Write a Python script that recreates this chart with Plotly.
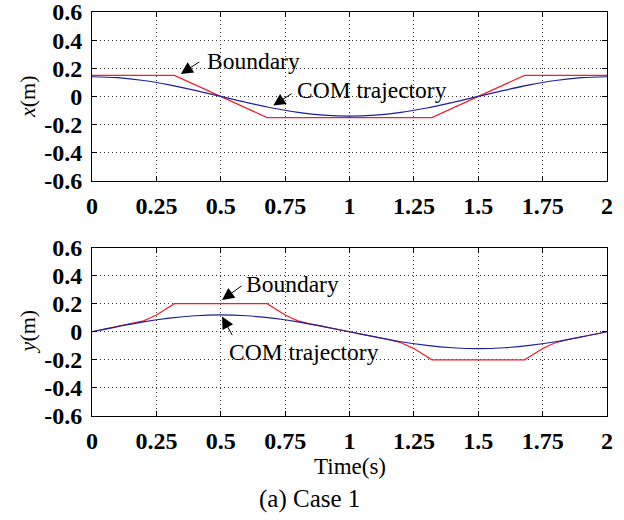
import plotly.graph_objects as go
from plotly.subplots import make_subplots

# ---- data ----
t_bound_x = [0, 0.32, 0.68, 1.32, 1.68, 2.0]
bound_x = [0.15, 0.15, -0.15, -0.15, 0.15, 0.15]

t_com = [0.0, 0.1, 0.2, 0.3, 0.4, 0.5, 0.6, 0.7, 0.8, 0.9, 1.0,
         1.1, 1.2, 1.3, 1.4, 1.5, 1.6, 1.7, 1.8, 1.9, 2.0]
com_x = [0.140, 0.133, 0.113, 0.082, 0.043, 0.0, -0.043, -0.082, -0.113, -0.133, -0.140,
         -0.133, -0.113, -0.082, -0.043, 0.0, 0.043, 0.082, 0.113, 0.133, 0.140]
com_y = [0.0, 0.037, 0.071, 0.097, 0.114, 0.120, 0.114, 0.097, 0.071, 0.037, 0.0,
         -0.037, -0.071, -0.097, -0.114, -0.120, -0.114, -0.097, -0.071, -0.037, 0.0]

t_bound_y = [0, 0.05, 0.1, 0.15, 0.2, 0.225, 0.25, 0.275, 0.3, 0.32,
             0.68, 0.7, 0.725, 0.75, 0.775, 0.8, 0.85, 0.9, 0.95, 1.0,
             1.05, 1.1, 1.15, 1.2, 1.225, 1.25, 1.275, 1.3, 1.32,
             1.68, 1.7, 1.725, 1.75, 1.775, 1.8, 1.85, 1.9, 1.95, 2.0]
bound_y = [0, 0.019, 0.037, 0.055, 0.078, 0.098, 0.12, 0.148, 0.177, 0.2,
           0.2, 0.177, 0.148, 0.12, 0.098, 0.078, 0.055, 0.037, 0.019, 0.0,
           -0.019, -0.037, -0.055, -0.078, -0.098, -0.12, -0.148, -0.177, -0.2,
           -0.2, -0.177, -0.148, -0.12, -0.098, -0.078, -0.055, -0.037, -0.019, 0.0]

x_ticks = [0, 0.25, 0.5, 0.75, 1, 1.25, 1.5, 1.75, 2]
x_tick_labels = ["0", "0.25", "0.5", "0.75", "1", "1.25", "1.5", "1.75", "2"]
y_ticks = [-0.6, -0.4, -0.2, 0, 0.2, 0.4, 0.6]
y_tick_labels = ["-0.6", "-0.4", "-0.2", "0", "0.2", "0.4", "0.6"]

RED = "#f0202a"
BLUE = "#1e1e9c"
FONT = "Liberation Serif"

fig = make_subplots(rows=2, cols=1, vertical_spacing=0.0)

fig.add_trace(go.Scatter(x=t_bound_x, y=bound_x, mode="lines",
                         line=dict(color=RED, width=1.2)), row=1, col=1)
fig.add_trace(go.Scatter(x=t_com, y=com_x, mode="lines",
                         line=dict(color=BLUE, width=1.2, shape="spline")), row=1, col=1)
fig.add_trace(go.Scatter(x=t_bound_y, y=bound_y, mode="lines",
                         line=dict(color=RED, width=1.2)), row=2, col=1)
fig.add_trace(go.Scatter(x=t_com, y=com_y, mode="lines",
                         line=dict(color=BLUE, width=1.2, shape="spline")), row=2, col=1)

axis_common = dict(showline=True, linecolor="black", linewidth=1, mirror="allticks",
                   ticks="inside", ticklen=5, tickcolor="black",
                   showgrid=True, gridcolor="#333333", gridwidth=1, griddash="1px,3px",
                   zeroline=False, automargin=False, ticklabeloverflow="allow",
                   tickfont=dict(family=FONT, size=24, color="black", weight="bold"))

for r in (1, 2):
    fig.update_xaxes(range=[0, 2], tickvals=x_ticks, ticktext=x_tick_labels,
                     ticklabelstandoff=3, row=r, col=1, **axis_common)
    fig.update_yaxes(range=[-0.6, 0.6], tickvals=y_ticks, ticktext=y_tick_labels,
                     ticklabelstandoff=4, row=r, col=1, **axis_common)

fig.update_layout(
    width=624, height=520,
    margin=dict(l=92, r=17, t=12, b=104, autoexpand=False),
    paper_bgcolor="white", plot_bgcolor="white",
    showlegend=False,
    xaxis=dict(domain=[0, 1]), xaxis2=dict(domain=[0, 1]),
    yaxis=dict(domain=[0.582, 1.0]), yaxis2=dict(domain=[0.0, 0.417]),
)

afont = dict(family=FONT, size=23.5, color="black")
arrow = dict(text="", showarrow=True, arrowhead=2, arrowsize=2.4, arrowwidth=1,
             arrowcolor="black")
annotations = [
    # top panel
    dict(x=0.44, y=0.25, xref="x", yref="y", text="Boundary", showarrow=False,
         xanchor="left", yanchor="middle", font=afont),
    dict(x=0.345, y=0.16, xref="x", yref="y", ax=20, ay=-13, **arrow),
    dict(x=0.79, y=0.045, xref="x", yref="y", text="COM trajectory", showarrow=False,
         xanchor="left", yanchor="middle", font=afont),
    dict(x=0.704, y=-0.065, xref="x", yref="y", ax=20, ay=-13, **arrow),
    # bottom panel
    dict(x=0.59, y=0.34, xref="x2", yref="y2", text="Boundary", showarrow=False,
         xanchor="left", yanchor="middle", font=afont),
    dict(x=0.505, y=0.227, xref="x2", yref="y2", ax=21, ay=-15, **arrow),
    dict(x=0.525, y=-0.145, xref="x2", yref="y2", text="COM trajectory", showarrow=False,
         xanchor="left", yanchor="middle", font=afont),
    dict(x=0.505, y=0.108, xref="x2", yref="y2", ax=11, ay=20, **arrow),
    # axis titles
    dict(x=-0.125, y=0, xref="paper", yref="y", text="<i>x</i>(m)", showarrow=False,
         textangle=-90, xanchor="center", yanchor="middle",
         font=dict(family=FONT, size=22, color="black")),
    dict(x=-0.125, y=0, xref="paper", yref="y2", text="<i>y</i>(m)", showarrow=False,
         textangle=-90, xanchor="center", yanchor="middle",
         font=dict(family=FONT, size=22, color="black")),
    dict(x=0.5, y=-0.124, xref="paper", yref="paper", text="Time(s)", showarrow=False,
         xanchor="center", yanchor="middle", font=dict(family=FONT, size=23, color="black")),
    dict(x=0.423, y=-0.205, xref="paper", yref="paper", text="(a) Case 1", showarrow=False,
         xanchor="center", yanchor="middle", font=dict(family=FONT, size=25, color="black")),
]
fig.update_layout(annotations=annotations)

fig.write_html("out.html")
